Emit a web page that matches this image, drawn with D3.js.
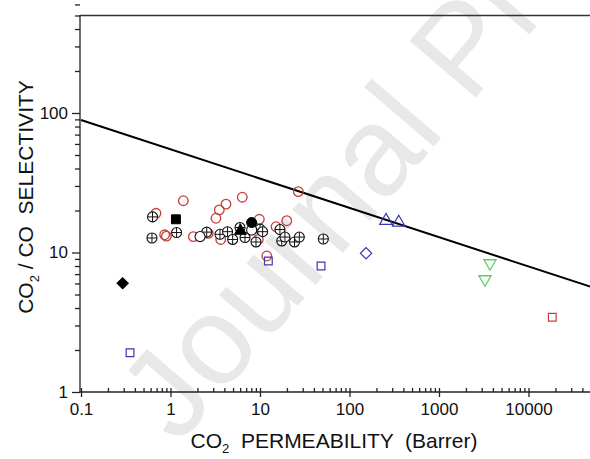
<!DOCTYPE html>
<html lang="en">
<head>
<meta charset="utf-8">
<style>
  body { margin: 0; background: white; }
  svg { display: block; font-family: "Liberation Sans", Arial, sans-serif; }
  .axis path, .axis line { stroke: #222; stroke-width: 1.3; fill: none; }
  .axis text { font-size: 17px; fill: #111; }
</style>
</head>
<body>
<svg id="chart"></svg>
<script src="https://cdn.jsdelivr.net/npm/d3@7"></script>
<script>

// axis ticks
var xMajor = [0.1, 1, 10, 100, 1000, 10000]
var xLabels = ["0.1", "1", "10", "100", "1000", "10000"]
var yMajor = [1, 10, 100]
var yLabels = ["1", "10", "100"]

// series, [permeability, selectivity]
var redCircles = [[0.689, 19.1], [1.39, 23.5], [0.86, 13.4], [0.90, 13.1], [1.80, 13.0],
  [2.64, 13.7], [3.64, 12.4], [3.22, 17.6], [3.51, 20.2], [4.17, 22.2], [6.34, 24.9],
  [9.83, 17.3], [9.57, 12.4], [11.9, 9.44], [15.1, 15.3], [19.9, 16.9], [26.8, 27.3]]
var crossedCircles = [[0.63, 18.0], [0.621, 12.7], [1.17, 13.9], [2.54, 14.0], [3.57, 13.5],
  [4.34, 14.1], [4.95, 12.4], [6.80, 12.8], [5.98, 15.1], [9.02, 11.9], [10.0, 14.7],
  [10.7, 14.1], [16.7, 14.6], [17.5, 12.1], [19.0, 12.9], [24.3, 11.9], [27.5, 12.9], [51.0, 12.5]]
var openCircles = [[2.14, 13.0], [8.07, 14.5]]
var filledCircles = [[8.07, 16.4]]
var filledTriangles = [[6.05, 14.3]]
var filledSquares = [[1.15, 17.3]]
var filledDiamonds = [[0.292, 6.02]]
var blueSquares = [[0.353, 1.91], [12.4, 8.69], [48.1, 8.0]]
var blueDiamonds = [[153, 9.87]]
var blueTriangles = [[256, 16.9], [355, 16.4]]
var greenTriangles = [[3715, 8.37], [3266, 6.43]]
var redSquares = [[18450, 3.43]]

// upper bound line end points
var boundP = [0.1, 100000]
var boundS = [89, 4.9]

var W = 590, H = 459
var svg = d3.select("#chart").attr("width", W).attr("height", H)

var x = d3.scaleLog().domain([0.1, 100000]).range([81, 81 + 6 * 89.5])
var y = d3.scaleLog().domain([1, 500]).range([392, 392 - Math.log10(500) * 139.5])

// watermark
svg.append("text")
  .attr("transform", "translate(178,446) rotate(-49.5)")
  .style("font-size", "126px")
  .style("fill", "#e8e8e8")
  .text("Journal Pre-proof")

function minors(lo, hi) {
  var out = []
  for (var e = lo; e < hi; e++) {
    for (var k = 2; k <= 9; k++) out.push(k * Math.pow(10, e))
  }
  return out
}

// x axis: minor ticks point in, major ticks cross the line
svg.append("g").attr("class", "axis")
  .attr("transform", "translate(0,392)")
  .call(d3.axisBottom(x).tickValues(minors(-1, 5)).tickSize(-4).tickFormat(""))
  .select(".domain").remove()

var xg = svg.append("g").attr("class", "axis")
  .attr("transform", "translate(0,392)")
  .call(d3.axisBottom(x).tickValues(xMajor).tickSizeOuter(0).tickSize(5).tickPadding(8)
    .tickFormat(function(d, i) { return xLabels[i] }))
xg.selectAll(".tick line").attr("y1", -4)
xg.select(".domain").attr("d", "M80,0H" + W)
xg.selectAll("text").attr("dy", "0.71em").attr("y", 11)

// y axis: ticks point out
svg.append("g").attr("class", "axis")
  .attr("transform", "translate(80,0)")
  .call(d3.axisLeft(y).tickValues(minors(0, 3)).tickSize(5).tickFormat(""))
  .select(".domain").remove()

var yg = svg.append("g").attr("class", "axis")
  .attr("transform", "translate(80,0)")
  .call(d3.axisLeft(y).tickValues(yMajor).tickSize(8).tickSizeOuter(0).tickPadding(4)
    .tickFormat(function(d, i) { return yLabels[i] }))
yg.select(".domain").attr("d", "M0,15V392")

// top frame line
svg.append("line")
  .attr("x1", 80).attr("x2", W)
  .attr("y1", y(500)).attr("y2", y(500))
  .style("stroke", "#333").style("stroke-width", 1.5)

// upper bound
svg.append("path")
  .datum(d3.zip(boundP, boundS))
  .attr("d", d3.line().x(function(d) { return x(d[0]) }).y(function(d) { return y(d[1]) }))
  .style("stroke", "#000").style("stroke-width", 2).style("fill", "none")

var plot = svg.append("g")

function sym(data, type, size, rot, fill, stroke, sw) {
  plot.selectAll(null).data(data).enter().append("path")
    .attr("transform", function(d) {
      return "translate(" + x(d[0]) + "," + y(d[1]) + ") rotate(" + rot + ")"
    })
    .attr("d", d3.symbol().type(type).size(size)())
    .style("fill", fill).style("stroke", stroke).style("stroke-width", sw)
}

sym(redCircles, d3.symbolCircle, 72, 0, "none", "#c4403c", 1.3)

var cross = plot.selectAll(null).data(crossedCircles).enter().append("g")
  .attr("transform", function(d) { return "translate(" + x(d[0]) + "," + y(d[1]) + ")" })
cross.append("circle").attr("r", 5).style("fill", "white").style("stroke", "#111").style("stroke-width", 1.1)
cross.append("path").attr("d", "M-5,0H5M0,-5V5").style("stroke", "#111").style("stroke-width", 1)

sym(openCircles, d3.symbolCircle, 80, 0, "white", "#111", 1.1)
sym(filledCircles, d3.symbolCircle, 80, 0, "#000", "#000", 1)
sym(filledTriangles, d3.symbolTriangle, 62, 0, "#000", "#000", 1)
sym(filledSquares, d3.symbolSquare, 80, 0, "#000", "#000", 1)
sym(filledDiamonds, d3.symbolSquare, 64, 45, "#000", "#000", 1)
sym(blueSquares, d3.symbolSquare, 60, 0, "none", "#3a3ab4", 1.2)
sym(blueDiamonds, d3.symbolSquare, 64, 45, "none", "#3a3ab4", 1.2)
sym(blueTriangles, d3.symbolTriangle, 70, 0, "none", "#3a3ab4", 1.2)
sym(greenTriangles, d3.symbolTriangle, 64, 180, "none", "#5cd05c", 1.3)
sym(redSquares, d3.symbolSquare, 60, 0, "none", "#c4403c", 1.2)

// axis titles
var xt = svg.append("text")
  .attr("x", 334).attr("y", 448)
  .attr("text-anchor", "middle")
  .style("font-size", "21px").style("fill", "#111")
  .attr("xml:space", "preserve")
xt.append("tspan").text("CO")
xt.append("tspan").attr("dy", 5).style("font-size", "13px").text("2")
xt.append("tspan").attr("dy", -5).text("  PERMEABILITY  (Barrer)")

var yt = svg.append("text")
  .attr("transform", "translate(33,197) rotate(-90)")
  .attr("text-anchor", "middle")
  .style("font-size", "21px").style("fill", "#111")
  .attr("xml:space", "preserve")
yt.append("tspan").text("CO")
yt.append("tspan").attr("dy", 6).style("font-size", "13px").text("2")
yt.append("tspan").attr("dy", -6).text(" / CO  SELECTIVITY")

</script>
</body>
</html>
